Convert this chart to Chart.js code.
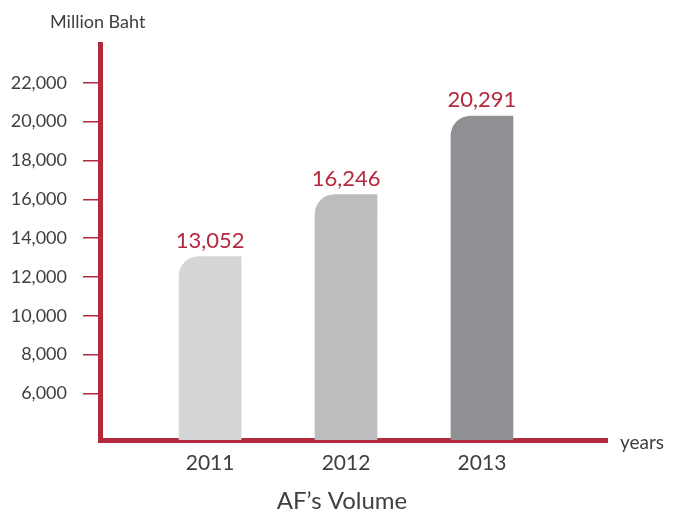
<!DOCTYPE html>
<html>
<head>
<meta charset="utf-8">
<script src="https://cdn.jsdelivr.net/npm/chart.js@4"></script>
<style>
  html, body { margin: 0; padding: 0; background: #fff; }
  #wrap { width: 675px; height: 514px; }
</style>
</head>
<body>
<div id="wrap"><canvas id="chart" width="675" height="514"></canvas></div>
<script>
// data
const years = [2011, 2012, 2013];
const volume = [13052, 16246, 20291];
const yTicks = [6000, 8000, 10000, 12000, 14000, 16000, 18000, 20000, 22000];

const red = "#b3293d";
const textGrey = "#404040";
const font = "Lato, 'DejaVu Sans', sans-serif";

// value labels above the bars + the captions
const labelsPlugin = {
  id: "labels",
  afterDatasetsDraw(chart) {
    const ctx = chart.ctx;
    const meta = chart.getDatasetMeta(0);
    ctx.save();
    ctx.fillStyle = red;
    ctx.font = "22px " + font;
    ctx.textAlign = "center";
    ctx.textBaseline = "alphabetic";
    meta.data.forEach((bar, i) => {
      ctx.fillText(volume[i].toLocaleString("en-US"), bar.x, bar.y - 9);
    });
    ctx.fillStyle = textGrey;
    ctx.font = "18px " + font;
    ctx.textAlign = "left";
    ctx.textBaseline = "middle";
    ctx.fillText("Million Baht", 50, 22);
    ctx.font = "19px " + font;
    ctx.fillText("years", 620, 443);
    ctx.font = "24px " + font;
    ctx.textAlign = "center";
    ctx.fillText("AF’s Volume", 342, 501);
    ctx.restore();
  }
};

new Chart(document.getElementById("chart"), {
  type: "bar",
  data: {
    datasets: [{
      data: years.map((y, i) => ({ x: y, y: volume[i] })),
      backgroundColor: ["#d4d5d7", "#bcbdbf", "#8f9093"],
      borderRadius: { topLeft: 20, topRight: 0, bottomLeft: 0, bottomRight: 0 },
      borderSkipped: false,
      barThickness: 62
    }]
  },
  options: {
    responsive: false,
    animation: false,
    layout: { padding: { top: 44, right: 68, left: 0, bottom: 0 } },
    plugins: {
      legend: { display: false },
      tooltip: { enabled: false }
    },
    scales: {
      x: {
        type: "linear",
        offset: false,
        min: 2010.19,
        max: 2013.92,
        afterBuildTicks: (scale) => { scale.ticks = years.map(v => ({ value: v })); },
        afterFit: (scale) => { scale.height = 74; },
        grid: { display: false, offset: false },
        border: { display: true, color: red, width: 5 },
        ticks: {
          color: textGrey,
          font: { family: font, size: 21 },
          padding: 3,
          callback: (v) => String(v)
        }
      },
      y: {
        min: 3600,
        max: 24000,
        afterBuildTicks: (scale) => { scale.ticks = yTicks.map(v => ({ value: v })); },
        afterFit: (scale) => { scale.width = 100; },
        grid: {
          drawOnChartArea: false,
          drawTicks: true,
          tickLength: 17,
          color: red,
          lineWidth: 1.5
        },
        border: { display: true, color: red, width: 5 },
        ticks: {
          color: textGrey,
          font: { family: font, size: 18 },
          padding: 16,
          callback: (v) => v.toLocaleString("en-US")
        }
      }
    }
  },
  plugins: [labelsPlugin]
});
</script>
</body>
</html>
